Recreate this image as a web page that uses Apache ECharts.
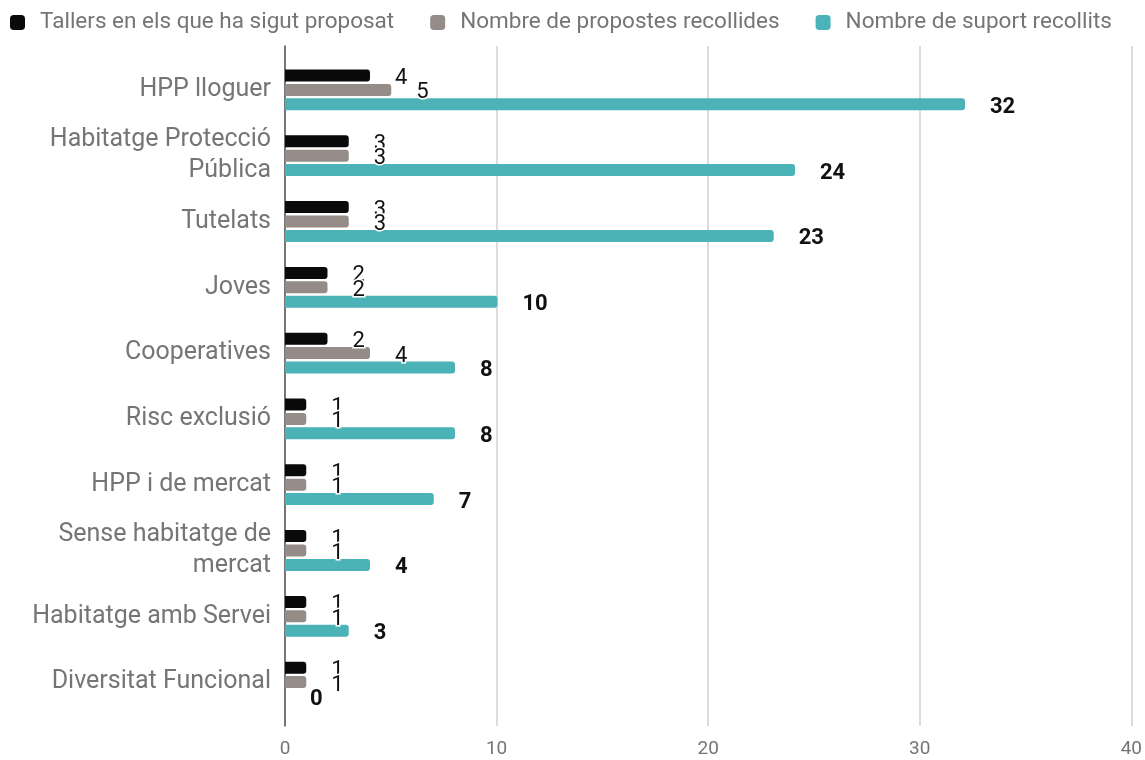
<!DOCTYPE html>
<html>
<head>
<meta charset="utf-8">
<script src="https://cdn.jsdelivr.net/npm/echarts@6/dist/echarts.min.js"></script>
<style>html,body{margin:0;padding:0;background:#fff}#c{width:1145px;height:760px}</style>
</head>
<body>
<div id="c"></div>
<script>
const categories = ['HPP lloguer', 'Habitatge Protecció Pública', 'Tutelats', 'Joves', 'Cooperatives', 'Risc exclusió', 'HPP i de mercat', 'Sense habitatge de mercat', 'Habitatge amb Servei', 'Diversitat Funcional'];
const tallers = [4, 3, 3, 2, 2, 1, 1, 1, 1, 1];
const propostes = [5, 3, 3, 2, 4, 1, 1, 1, 1, 1];
const suport = [32, 24, 23, 10, 8, 8, 7, 4, 3, 0];
const seriesNames = ['Tallers en els que ha sigut proposat', 'Nombre de propostes recollides', 'Nombre de suport recollits'];
const xTicks = { min: 0, max: 40, interval: 10 };

const FONT = 'Roboto';
const CAT_FONT_SIZE = 25;
const CAT_MAX_W = 262;

const measureCtx = document.createElement('canvas').getContext('2d');
function wrapLabel(text) {
  measureCtx.font = CAT_FONT_SIZE + 'px ' + FONT;
  const words = text.split(' ');
  const lines = [];
  let cur = '';
  words.forEach(function (w) {
    const test = cur ? cur + ' ' + w : w;
    if (cur && measureCtx.measureText(test).width > CAT_MAX_W) {
      lines.push(cur);
      cur = w;
    } else {
      cur = test;
    }
  });
  if (cur) lines.push(cur);
  return lines.join('\n');
}

const chart = echarts.init(document.getElementById('c'), null, { renderer: 'canvas' });

function barSeries(name, data, color, bold) {
  return {
    name: name,
    type: 'bar',
    xAxisIndex: 0,
    yAxisIndex: 0,
    data: data,
    barWidth: 12,
    barGap: '20%',
    itemStyle: { color: color, borderRadius: [0, 3, 3, 0] },
    label: {
      show: true,
      position: 'right',
      distance: 25,
      offset: [0, 3],
      fontFamily: FONT,
      fontSize: 22,
      fontWeight: bold ? 'bold' : 'normal',
      color: '#111',
      textBorderColor: '#fff',
      textBorderWidth: 3
    }
  };
}

chart.setOption({
  animation: false,
  textStyle: { fontFamily: FONT },
  legend: {
    left: 5,
    top: 6,
    itemWidth: 15,
    itemHeight: 15,
    itemGap: 36,
    icon: 'roundRect',
    textStyle: { fontFamily: FONT, fontSize: 22.5, color: '#757575', padding: [0, 0, 0, 10] },
    data: seriesNames
  },
  grid: [
    { left: 285, right: 10, top: 57, bottom: 45 },
    { left: 285, right: 10, top: 46, bottom: 34 }
  ],
  xAxis: [
    { gridIndex: 0, type: 'value', min: xTicks.min, max: xTicks.max, interval: xTicks.interval, show: false },
    {
      gridIndex: 1, type: 'value', min: xTicks.min, max: xTicks.max, interval: xTicks.interval,
      axisLine: { show: false }, axisTick: { show: false },
      splitLine: { show: true, lineStyle: { color: '#d0d0d0', width: 1.5 } },
      axisLabel: { fontFamily: FONT, fontSize: 19, color: '#757575', margin: 14 }
    }
  ],
  yAxis: [
    {
      gridIndex: 0, type: 'category', data: categories, inverse: true,
      axisLine: { show: false }, axisTick: { show: false }, splitLine: { show: false },
      axisLabel: {
        fontFamily: FONT, fontSize: CAT_FONT_SIZE, color: '#757575', margin: 14,
        lineHeight: 31, align: 'right',
        formatter: function (v) { return wrapLabel(v); }
      }
    },
    {
      gridIndex: 1, type: 'value', min: 0, max: 1,
      axisLine: { show: true, onZero: false, lineStyle: { color: '#555', width: 1.5 } },
      axisTick: { show: false }, axisLabel: { show: false }, splitLine: { show: false }
    }
  ],
  series: [
    barSeries(seriesNames[0], tallers, '#0a0a0a', false),
    barSeries(seriesNames[1], propostes, '#958c88', false),
    barSeries(seriesNames[2], suport, '#4bb3b7', true)
  ]
});
</script>
</body>
</html>
